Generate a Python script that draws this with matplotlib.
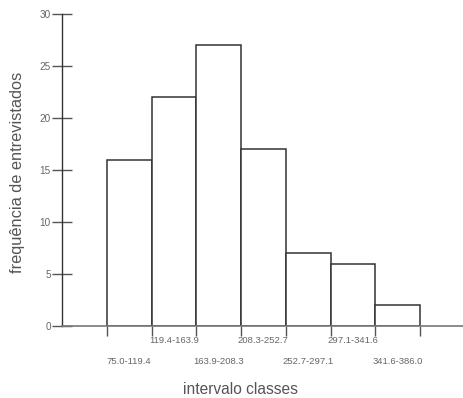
import numpy as np
import matplotlib.pyplot as plt

plt.rcParams['font.family'] = ['Liberation Sans', 'DejaVu Sans']

# classes e frequencias
classes = ['75.0-119.4', '119.4-163.9', '163.9-208.3', '208.3-252.7',
           '252.7-297.1', '297.1-341.6', '341.6-386.0']
freq = [16, 22, 27, 17, 7, 6, 2]
yticks = [0, 5, 10, 15, 20, 25, 30]

fig = plt.figure(figsize=(4.63, 3.98), dpi=100)
ax = fig.add_axes([62/463, 1-326/398, 1-62/463, 312/398])

x = np.arange(len(freq))
ax.bar(x, freq, width=1.0, color='white', edgecolor='#333333', linewidth=1.1)

ax.set_xlim(-1.5, 7.46)
ax.set_ylim(0, 30)

# eixos
for s in ['top', 'right']:
    ax.spines[s].set_visible(False)
ax.spines['left'].set_color('#333333')
ax.spines['bottom'].set_color('#777777')
ax.spines['bottom'].set_linewidth(1.2)
ax.spines['left'].set_linewidth(1.0)

ax.set_yticks(yticks)
ax.tick_params(axis='y', direction='inout', length=14, width=1, color='#555555',
               labelsize=7.2, labelcolor='#666666', pad=1)

edges = np.arange(len(freq) + 1) - 0.5
ax.set_xticks(edges)
ax.set_xticklabels([])
ax.tick_params(axis='x', direction='out', length=7, width=1, color='#555555')

# rotulos das classes em duas linhas
for i, lab in enumerate(classes):
    yy = -0.045 if i % 2 == 1 else -0.115
    ax.text(i, yy, lab, transform=ax.get_xaxis_transform(), ha='center', va='center',
            fontsize=6.8, color='#666666')

fig.text(18/463, 1-172/398, 'frequência de entrevistados', rotation=90, ha='center', va='center',
         fontsize=11.8, color='#555555')
fig.text(240/463, 1-389/398, 'intervalo classes', ha='center', va='center',
         fontsize=11.2, color='#555555')

fig.savefig('out.png', dpi=100)
